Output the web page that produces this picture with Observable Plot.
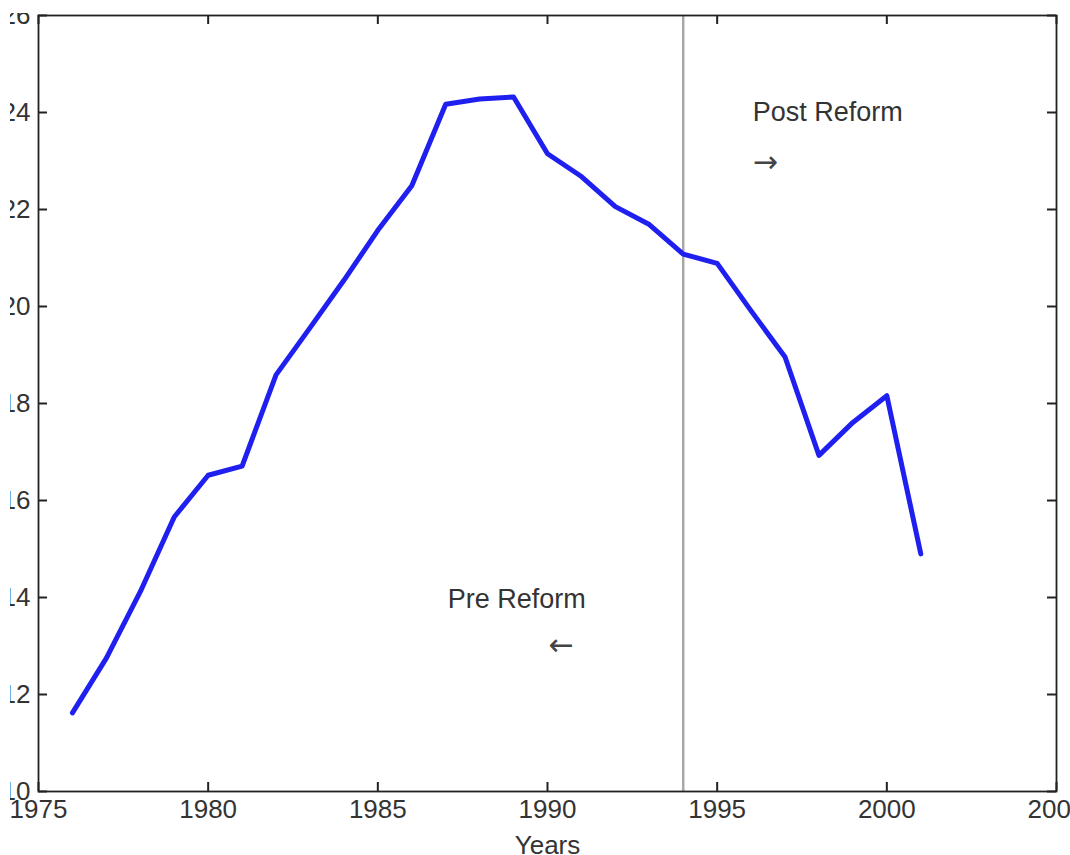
<!DOCTYPE html>
<html><head><meta charset="utf-8">
<script src="https://cdn.jsdelivr.net/npm/d3@7"></script>
<script src="https://cdn.jsdelivr.net/npm/@observablehq/plot@0.6"></script>
<style>
html,body{margin:0;padding:0;background:#fff;}
#clip{position:absolute;left:10px;top:13px;width:1060px;height:842px;overflow:hidden;background:#fff;}
#chart{position:absolute;left:-10px;top:-13px;}
</style></head><body><div id="clip"><div id="chart"></div></div>
<script>
const years = [1976,1977,1978,1979,1980,1981,1982,1983,1984,1985,1986,1987,1988,1989,1990,1991,1992,1993,1994,1995,1996,1997,1998,1999,2000,2001];
const values = [11.62,12.75,14.12,15.66,16.52,16.71,18.59,19.56,20.54,21.57,22.49,24.17,24.28,24.32,23.15,22.68,22.06,21.69,21.08,20.89,19.91,18.96,16.93,17.61,18.16,14.90];
const xTicks = [1975,1980,1985,1990,1995,2000,2005];
const yTicks = [10,12,14,16,18,20,22,24,26];
const reformYear = 1994;
const noteText = ["Post Reform","Pre Reform"];
const noteX = [1996.05,1987.06];
const noteY = [24.0,13.96];
const arrowText = ["\u2192","\u2190"];
const arrowX = [1996.05,1990.04];
const arrowY = [22.88,12.93];

const data = years.map((x,i)=>({x, y: values[i]}));
const notes = noteText.map((t,i)=>({t, x: noteX[i], y: noteY[i]}));
const arrows = arrowText.map((t,i)=>({t, x: arrowX[i], y: arrowY[i]}));

const W = 1070, H = 855, ML = 38, MR = 14, MT = 15, MB = 64;
const PW = W - ML - MR, PH = H - MT - MB, TK = 9;
const ink = "#222";

const chart = Plot.plot({
  width: W, height: H,
  marginLeft: ML, marginRight: MR, marginTop: MT, marginBottom: MB,
  style: {fontFamily: "'Liberation Sans', Arial, sans-serif", fontSize: "26px", background: "white", color: ink},
  x: {domain: [1975, 2005]},
  y: {domain: [10, 26]},
  marks: [
    Plot.ruleX([reformYear], {stroke: "#a8a8a8", strokeWidth: 2.5}),
    Plot.line(data, {x: "x", y: "y", stroke: "#1f1ff0", strokeWidth: 5, strokeLinejoin: "round"}),
    Plot.frame({stroke: ink, strokeWidth: 1.8}),
    Plot.ruleX(xTicks, {insetTop: PH - TK, stroke: ink, strokeWidth: 2}),
    Plot.ruleX(xTicks, {insetBottom: PH - TK, stroke: ink, strokeWidth: 2}),
    Plot.ruleY(yTicks, {insetRight: PW - TK, stroke: ink, strokeWidth: 2}),
    Plot.ruleY(yTicks, {insetLeft: PW - TK, stroke: ink, strokeWidth: 2}),
    Plot.axisX(xTicks, {tickSize: 0, tickPadding: 8, tickFormat: "d", label: null, fontSize: 26, fill: "#333"}),
    Plot.axisY(yTicks, {tickSize: 0, tickPadding: 8, tickFormat: "d", label: null, fontSize: 26, fill: "#333"}),
    Plot.text(["Years"], {text: d => d, frameAnchor: "bottom", dy: 62, fontSize: 26, fill: "#333"}),
    Plot.text(notes, {x: "x", y: "y", text: "t", textAnchor: "start", fontSize: 27, fill: "#333"}),
    Plot.text(arrows, {x: "x", y: "y", text: "t", textAnchor: "start", fontSize: 30, fontFamily: "'DejaVu Sans', sans-serif", fill: "#444", dy: -4})
  ]
});
document.getElementById("chart").appendChild(chart);
</script></body></html>
